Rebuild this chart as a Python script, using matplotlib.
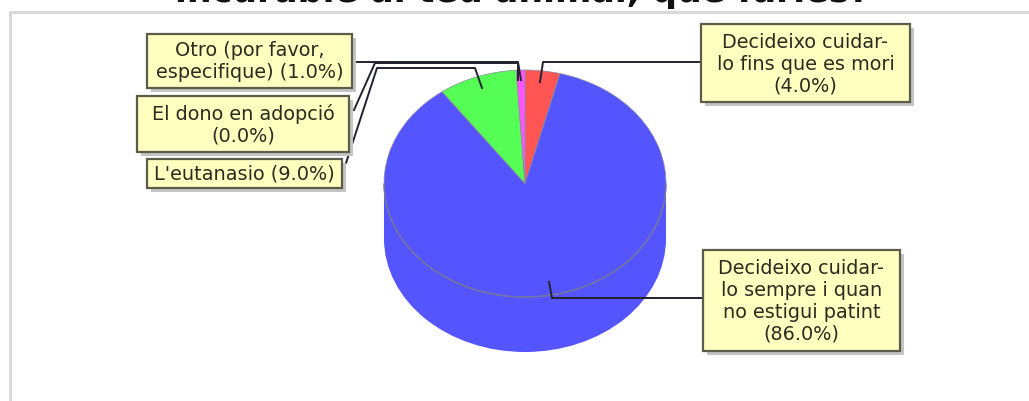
import numpy as np
import matplotlib
matplotlib.use('Agg')
import matplotlib.pyplot as plt
from matplotlib.patches import Arc, Ellipse, Rectangle

W, H = 1029, 401

titulo = "incurable al teu animal, què faries?"
etiquetas = ["Decideixo cuidar-\nlo fins que es mori\n(4.0%)",
             "Decideixo cuidar-\nlo sempre i quan\nno estigui patint\n(86.0%)",
             "El dono en adopció\n(0.0%)",
             "L'eutanasio (9.0%)",
             "Otro (por favor,\nespecifique) (1.0%)"]
valores = [4.0, 86.0, 0.0, 9.0, 1.0]
colores = ['#FF5555', '#5555FF', '#55FF55', '#55FF55', '#FF55FF']

# cajas: x0, y0, x1, y1 en pixeles
cajas = [(701, 24, 910, 102), (703, 250, 900, 351), (137, 96, 349, 152),
         (147, 159, 342, 188), (147, 34, 352, 88)]
# lineas guia
guias = [[(701, 62), (543, 62), (540, 82)],
         [(703, 298), (552, 298), (549, 282)],
         [(354, 110), (375, 63), (518, 63), (518, 80)],
         [(346, 163), (377, 68), (475, 68), (482, 88)],
         [(355, 62), (518, 62), (521, 80)]]

cx, cy, rx, ry, prof = 525, 183.5, 141, 113.5, 55

fig = plt.figure(figsize=(W / 100, H / 100), dpi=100)
ax = fig.add_axes([0, 0, 1, 1])
ax.set_xlim(0, W)
ax.set_ylim(H, 0)
ax.axis('off')

# marco
ax.plot([9.5, 9.5, W], [H, 12, 12], color='#d8d8d8', lw=2.2, zorder=1)
ax.text(522, 2, titulo, ha='center', va='baseline', fontsize=25.1, fontweight='bold',
        family='DejaVu Sans', color='#111111', zorder=2)

# cuerpo del cilindro
ax.add_patch(Rectangle((cx - rx, cy), 2 * rx, prof, fc='#5555FF', ec='none', zorder=2))
ax.add_patch(Ellipse((cx, cy + prof), 2 * rx, 2 * ry, fc='#5555FF', ec='none', zorder=2))

# tapa del pie en sus propios ejes
ax2 = fig.add_axes([(cx - rx) / W, 1 - (cy + ry) / H, 2 * rx / W, 2 * ry / H], zorder=3)
ax2.pie(valores, colors=colores, startangle=90, counterclock=False, radius=1,
        wedgeprops={'edgecolor': '#8a8aa0', 'linewidth': 0.5})
ax2.set_aspect('auto')
ax2.set_xlim(-1, 1)
ax2.set_ylim(-1, 1)
ax2.patch.set_alpha(0)

ax3 = fig.add_axes([0, 0, 1, 1], zorder=4)
ax3.set_xlim(0, W)
ax3.set_ylim(H, 0)
ax3.axis('off')
ax3.add_patch(Arc((cx, cy), 2 * rx, 2 * ry, theta1=0, theta2=180, ec='#77779a', lw=1, zorder=3))

for g in guias:
    xs, ys = zip(*g)
    ax3.plot(xs, ys, color='#222230', lw=1.4, zorder=4)

for (x0, y0, x1, y1), et in zip(cajas, etiquetas):
    ax3.add_patch(Rectangle((x0 + 4, y0 + 4), x1 - x0, y1 - y0, fc='#c4c4c4', ec='none', zorder=5))
    ax3.add_patch(Rectangle((x0, y0), x1 - x0, y1 - y0, fc='#FFFFC0', ec='#5c5c4a', lw=1.6, zorder=6))
    ax3.text((x0 + x1) / 2, (y0 + y1) / 2 + 1, et, ha='center', va='center', fontsize=13.9,
             family='DejaVu Sans', color='#2b2b20', linespacing=1.2, zorder=7)

fig.savefig('out.png', dpi=100)
